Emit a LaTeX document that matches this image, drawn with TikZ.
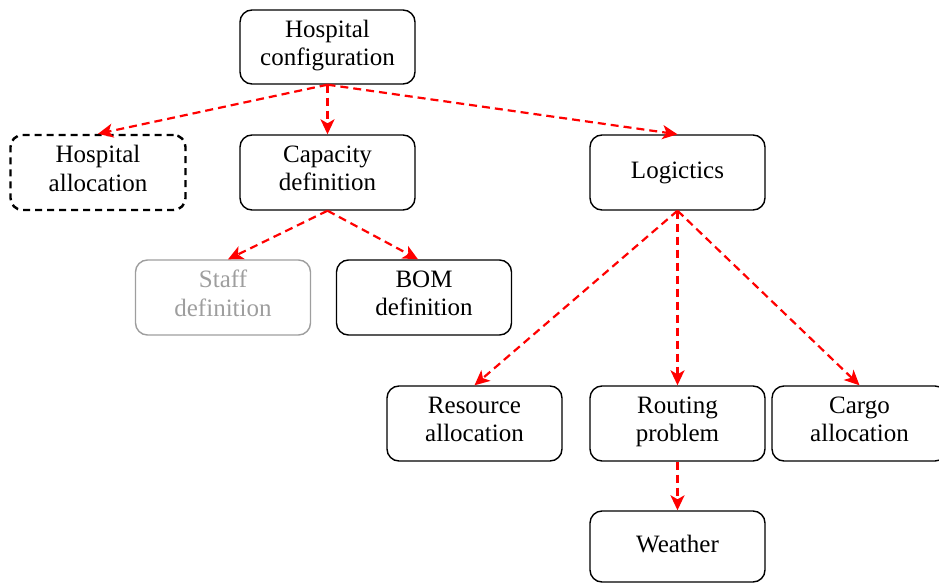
\documentclass[tikz,border=0pt]{standalone}
\usepackage{fontspec}
\setmainfont{Liberation Serif}
\usetikzlibrary{arrows.meta}
\definecolor{fadedgray}{HTML}{9E9E9E}
\begin{document}
\begin{tikzpicture}[x=1pt,y=-1pt,
  box/.style={draw, rounded corners=12pt, line width=1.4pt,
    minimum width=175pt, minimum height=75pt, inner sep=0pt,
    align=center, font=\fontsize{25}{28.5}\selectfont,
    execute at begin node=\strut, execute at end node=\strut},
  optbox/.style={box, line width=2.4pt, dash pattern=on 7pt off 5pt},
  fadedbox/.style={box, draw=fadedgray, text=fadedgray},
  link/.style={draw=red, line width=2.2pt, dash pattern=on 8pt off 5pt,
    -{Stealth[length=15pt,width=14pt,inset=4pt]}}]
\useasboundingbox (0,0) rectangle (939,583);

% top level
\node[box, minimum height=74pt] (hconf) at (327.5,47) {Hospital\\configuration};

% second level
\node[optbox] (halloc) at (98,172.5) {Hospital\\allocation};
\node[box] (cap) at (327.5,172.5) {Capacity\\definition};
\node[box] (log) at (677.5,172.5) {Logictics};

% capacity children
\node[fadedbox] (staff) at (223,297.5) {Staff\\definition};
\node[box] (bom) at (424,297.5) {BOM\\definition};

% logistics children
\node[box] (res) at (474.5,423.5) {Resource\\allocation};
\node[box] (rout) at (677.5,423.5) {Routing\\problem};
\node[box] (cargo) at (859.5,423.5) {Cargo\\allocation};
\node[box, minimum height=71pt] (weather) at (677.5,546.5) {Weather};

% dependencies
\draw[link] (hconf.south) -- (halloc.north);
\draw[link] (hconf.south) -- (cap.north);
\draw[link] (hconf.south) -- (log.north);
\draw[link] (cap.south) -- ([xshift=5pt]staff.north);
\draw[link] (cap.south) -- ([xshift=-6pt]bom.north);
\draw[link] (log.south) -- (res.north);
\draw[link] (log.south) -- (rout.north);
\draw[link] (log.south) -- (cargo.north);
\draw[link] (rout.south) -- (weather.north);
\end{tikzpicture}
\end{document}
